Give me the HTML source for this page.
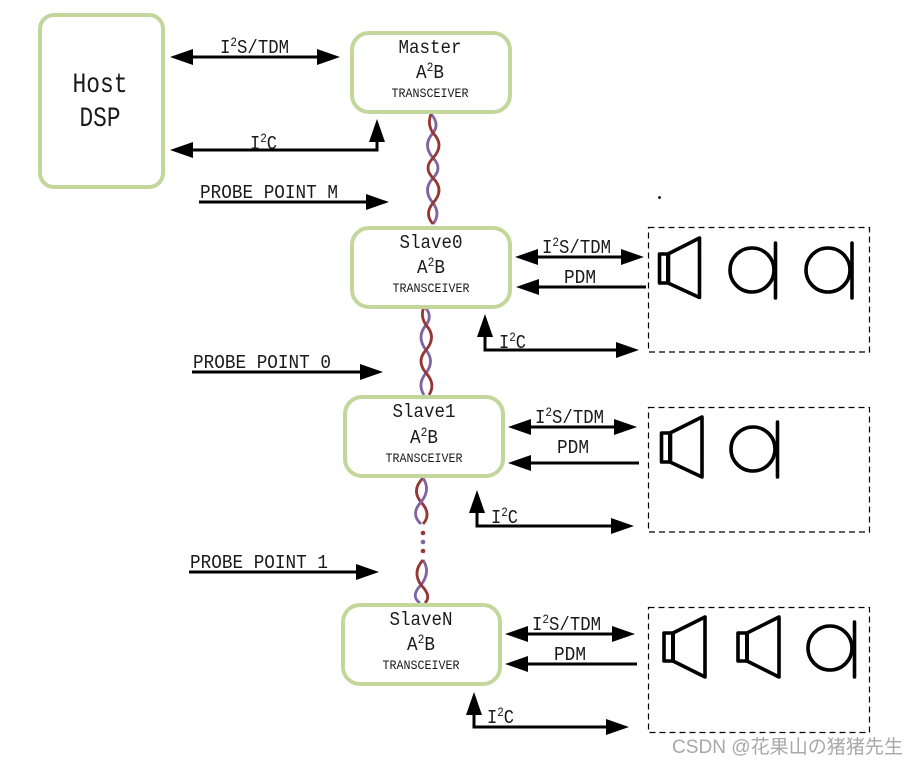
<!DOCTYPE html>
<html>
<head>
<meta charset="utf-8">
<style>
html,body{margin:0;padding:0;background:#fff;width:919px;height:766px;overflow:hidden}
svg{display:block}
text{font-family:"Liberation Mono","Noto Sans CJK SC",monospace;fill:#1a1a1a}
.n{font-size:19.5px;text-anchor:middle}
.t{font-size:12.5px;text-anchor:middle}
.l{font-size:19.5px}
.s{font-size:12.5px}
.box{fill:#fff;stroke:#c3d69b;stroke-width:4}
.a{fill:none;stroke:#000;stroke-width:3;marker-end:url(#ah)}
.d{fill:none;stroke:#000;stroke-width:3;marker-start:url(#ah);marker-end:url(#ah)}
.dash{fill:none;stroke:#000;stroke-width:1.2;stroke-dasharray:6 4}
.sp{fill:none;stroke:#000;stroke-width:3.6;stroke-linejoin:round;stroke-linecap:round}
.r{fill:none;stroke:#953735;stroke-width:2.8}
.p{fill:none;stroke:#8064a2;stroke-width:2.8}
</style>
</head>
<body>
<svg width="919" height="766" viewBox="0 0 919 766" xmlns="http://www.w3.org/2000/svg">
<defs>
<marker id="ah" markerUnits="userSpaceOnUse" markerWidth="24" markerHeight="16" refX="19" refY="8" orient="auto-start-reverse">
<polygon points="0,0 23,8 0,16" fill="#000"/>
</marker>
</defs>

<!-- Cables -->
<path class="p" d="M431 114Q440 124 433 133Q422 145 433 158Q443 168 433 178Q422 190 433 203Q441 214 433 224"/>
<path class="r" d="M431 114Q427 124 433 133Q445 145 433 158Q423 168 433 178Q445 190 433 203Q424 214 433 224"/>
<path class="p" d="M425 307Q433 316 426 325Q416 337 426 350Q435 361 426 373Q417 384 424 395"/>
<path class="r" d="M424 307Q420 316 426 325Q437 337 426 350Q416 361 426 373Q436 384 429 395"/>
<path class="r" d="M423 478Q411 490 421 502Q432 514 423 524"/>
<path class="p" d="M423 478Q431 490 421 502Q410 514 421 524"/>
<circle cx="423" cy="533" r="2.3" fill="#953735"/>
<circle cx="423" cy="542" r="2.3" fill="#8064a2"/>
<circle cx="423" cy="551" r="2.3" fill="#953735"/>
<path class="p" d="M423 560Q431 572 421 585Q410 596 420 603"/>
<path class="r" d="M423 560Q412 572 421 585Q432 596 425 603"/>

<!-- Boxes -->
<rect class="box" x="40" y="15" width="123" height="172" rx="14"/>
<rect class="box" x="352" y="33" width="158" height="79" rx="17"/>
<rect class="box" x="352" y="228" width="158" height="79" rx="17"/>
<rect class="box" x="345" y="397" width="158" height="79" rx="17"/>
<rect class="box" x="343" y="605" width="157" height="79" rx="17"/>

<!-- Host -->
<text x="100" y="92" style="font-size:28px;text-anchor:middle" textLength="55" lengthAdjust="spacingAndGlyphs">Host</text>
<text x="100" y="126" style="font-size:28px;text-anchor:middle" textLength="41" lengthAdjust="spacingAndGlyphs">DSP</text>

<!-- Box text -->
<text class="n" x="430" y="53" textLength="63" lengthAdjust="spacingAndGlyphs">Master</text>
<text class="n" x="430" y="78" textLength="28" lengthAdjust="spacingAndGlyphs">A<tspan class="s" dy="-7">2</tspan><tspan dy="7">B</tspan></text>
<text class="t" x="430" y="97" textLength="77" lengthAdjust="spacingAndGlyphs">TRANSCEIVER</text>

<text class="n" x="431" y="248" textLength="63" lengthAdjust="spacingAndGlyphs">Slave0</text>
<text class="n" x="431" y="273" textLength="28" lengthAdjust="spacingAndGlyphs">A<tspan class="s" dy="-7">2</tspan><tspan dy="7">B</tspan></text>
<text class="t" x="431" y="292" textLength="77" lengthAdjust="spacingAndGlyphs">TRANSCEIVER</text>

<text class="n" x="424" y="417" textLength="63" lengthAdjust="spacingAndGlyphs">Slave1</text>
<text class="n" x="424" y="443" textLength="28" lengthAdjust="spacingAndGlyphs">A<tspan class="s" dy="-7">2</tspan><tspan dy="7">B</tspan></text>
<text class="t" x="424" y="462" textLength="77" lengthAdjust="spacingAndGlyphs">TRANSCEIVER</text>

<text class="n" x="421" y="625" textLength="63" lengthAdjust="spacingAndGlyphs">SlaveN</text>
<text class="n" x="421" y="650" textLength="28" lengthAdjust="spacingAndGlyphs">A<tspan class="s" dy="-7">2</tspan><tspan dy="7">B</tspan></text>
<text class="t" x="421" y="669" textLength="77" lengthAdjust="spacingAndGlyphs">TRANSCEIVER</text>

<!-- Host connectors -->
<path class="d" d="M174 57H336"/>
<text class="l" x="220" y="53" textLength="69" lengthAdjust="spacingAndGlyphs">I<tspan class="s" dy="-7">2</tspan><tspan dy="7">S/TDM</tspan></text>
<path class="d" d="M174 150H377V123"/>
<text class="l" x="250" y="149" textLength="27" lengthAdjust="spacingAndGlyphs">I<tspan class="s" dy="-7">2</tspan><tspan dy="7">C</tspan></text>
<path class="a" d="M199 202H385"/>
<text class="l" x="200" y="198" textLength="138" lengthAdjust="spacingAndGlyphs">PROBE POINT M</text>

<!-- Slave0 connectors -->
<path class="d" d="M519 257H640"/>
<text class="l" x="542" y="253" textLength="69" lengthAdjust="spacingAndGlyphs">I<tspan class="s" dy="-7">2</tspan><tspan dy="7">S/TDM</tspan></text>
<path class="a" d="M646 287H520"/>
<text class="l" x="564" y="283" textLength="32" lengthAdjust="spacingAndGlyphs">PDM</text>
<path class="d" d="M485 318V350H635"/>
<text class="l" x="499" y="348" textLength="27" lengthAdjust="spacingAndGlyphs">I<tspan class="s" dy="-7">2</tspan><tspan dy="7">C</tspan></text>
<path class="a" d="M192 372H379"/>
<text class="l" x="193" y="368" textLength="138" lengthAdjust="spacingAndGlyphs">PROBE POINT 0</text>

<!-- Slave1 connectors -->
<path class="d" d="M512 427H633"/>
<text class="l" x="535" y="423" textLength="69" lengthAdjust="spacingAndGlyphs">I<tspan class="s" dy="-7">2</tspan><tspan dy="7">S/TDM</tspan></text>
<path class="a" d="M639 463H512"/>
<text class="l" x="557" y="453" textLength="32" lengthAdjust="spacingAndGlyphs">PDM</text>
<path class="d" d="M477 494V526H630"/>
<text class="l" x="491" y="523" textLength="27" lengthAdjust="spacingAndGlyphs">I<tspan class="s" dy="-7">2</tspan><tspan dy="7">C</tspan></text>
<path class="a" d="M189 572H375"/>
<text class="l" x="190" y="568" textLength="138" lengthAdjust="spacingAndGlyphs">PROBE POINT 1</text>

<!-- SlaveN connectors -->
<path class="d" d="M509 634H631"/>
<text class="l" x="532" y="630" textLength="69" lengthAdjust="spacingAndGlyphs">I<tspan class="s" dy="-7">2</tspan><tspan dy="7">S/TDM</tspan></text>
<path class="a" d="M637 664H509"/>
<text class="l" x="554" y="660" textLength="32" lengthAdjust="spacingAndGlyphs">PDM</text>
<path class="d" d="M474 696V727H625"/>
<text class="l" x="487" y="723" textLength="27" lengthAdjust="spacingAndGlyphs">I<tspan class="s" dy="-7">2</tspan><tspan dy="7">C</tspan></text>

<!-- Dashed boxes -->
<rect class="dash" x="648.5" y="227.5" width="221" height="124.5"/>
<rect class="dash" x="648.5" y="407.5" width="221" height="124.5"/>
<rect class="dash" x="648.5" y="607.5" width="221" height="125"/>

<!-- Row 1 speakers -->
<rect class="sp" x="659.5" y="254" width="9" height="29"/>
<path class="sp" d="M668 254L699.5 238V297.5L668 283"/>
<path d="M666 254H670V283H666Z" fill="#000"/>
<circle class="sp" cx="752" cy="270" r="22"/>
<path class="sp" d="M775.5 243V298"/>
<circle class="sp" cx="828" cy="270" r="22"/>
<path class="sp" d="M852 243V298"/>

<!-- Row 2 speakers -->
<rect class="sp" x="661.5" y="433" width="9" height="29"/>
<path class="sp" d="M670 433L702 417V477L670 462"/>
<path d="M668 433H672V462H668Z" fill="#000"/>
<circle class="sp" cx="753" cy="449" r="22"/>
<path class="sp" d="M777.5 422V477"/>

<!-- Row 3 speakers -->
<rect class="sp" x="664" y="633" width="9" height="28"/>
<path class="sp" d="M673 633L705 617V677L673 661"/>
<path d="M671 633H675V661H671Z" fill="#000"/>
<rect class="sp" x="738" y="633" width="9" height="28"/>
<path class="sp" d="M747 633L779 617V677L747 661"/>
<path d="M745 633H749V661H745Z" fill="#000"/>
<circle class="sp" cx="830" cy="648" r="22"/>
<path class="sp" d="M854.5 622V677"/>

<!-- Stray dot -->
<circle cx="659.5" cy="197.5" r="1.4" fill="#000"/>

<!-- Watermark -->
<text x="672" y="753" style="font-family:'Liberation Sans','Noto Sans CJK SC',sans-serif;font-size:19px;fill:#a8a8a8" textLength="231" lengthAdjust="spacingAndGlyphs">CSDN @花果山の猪猪先生</text>
</svg>
</body>
</html>
